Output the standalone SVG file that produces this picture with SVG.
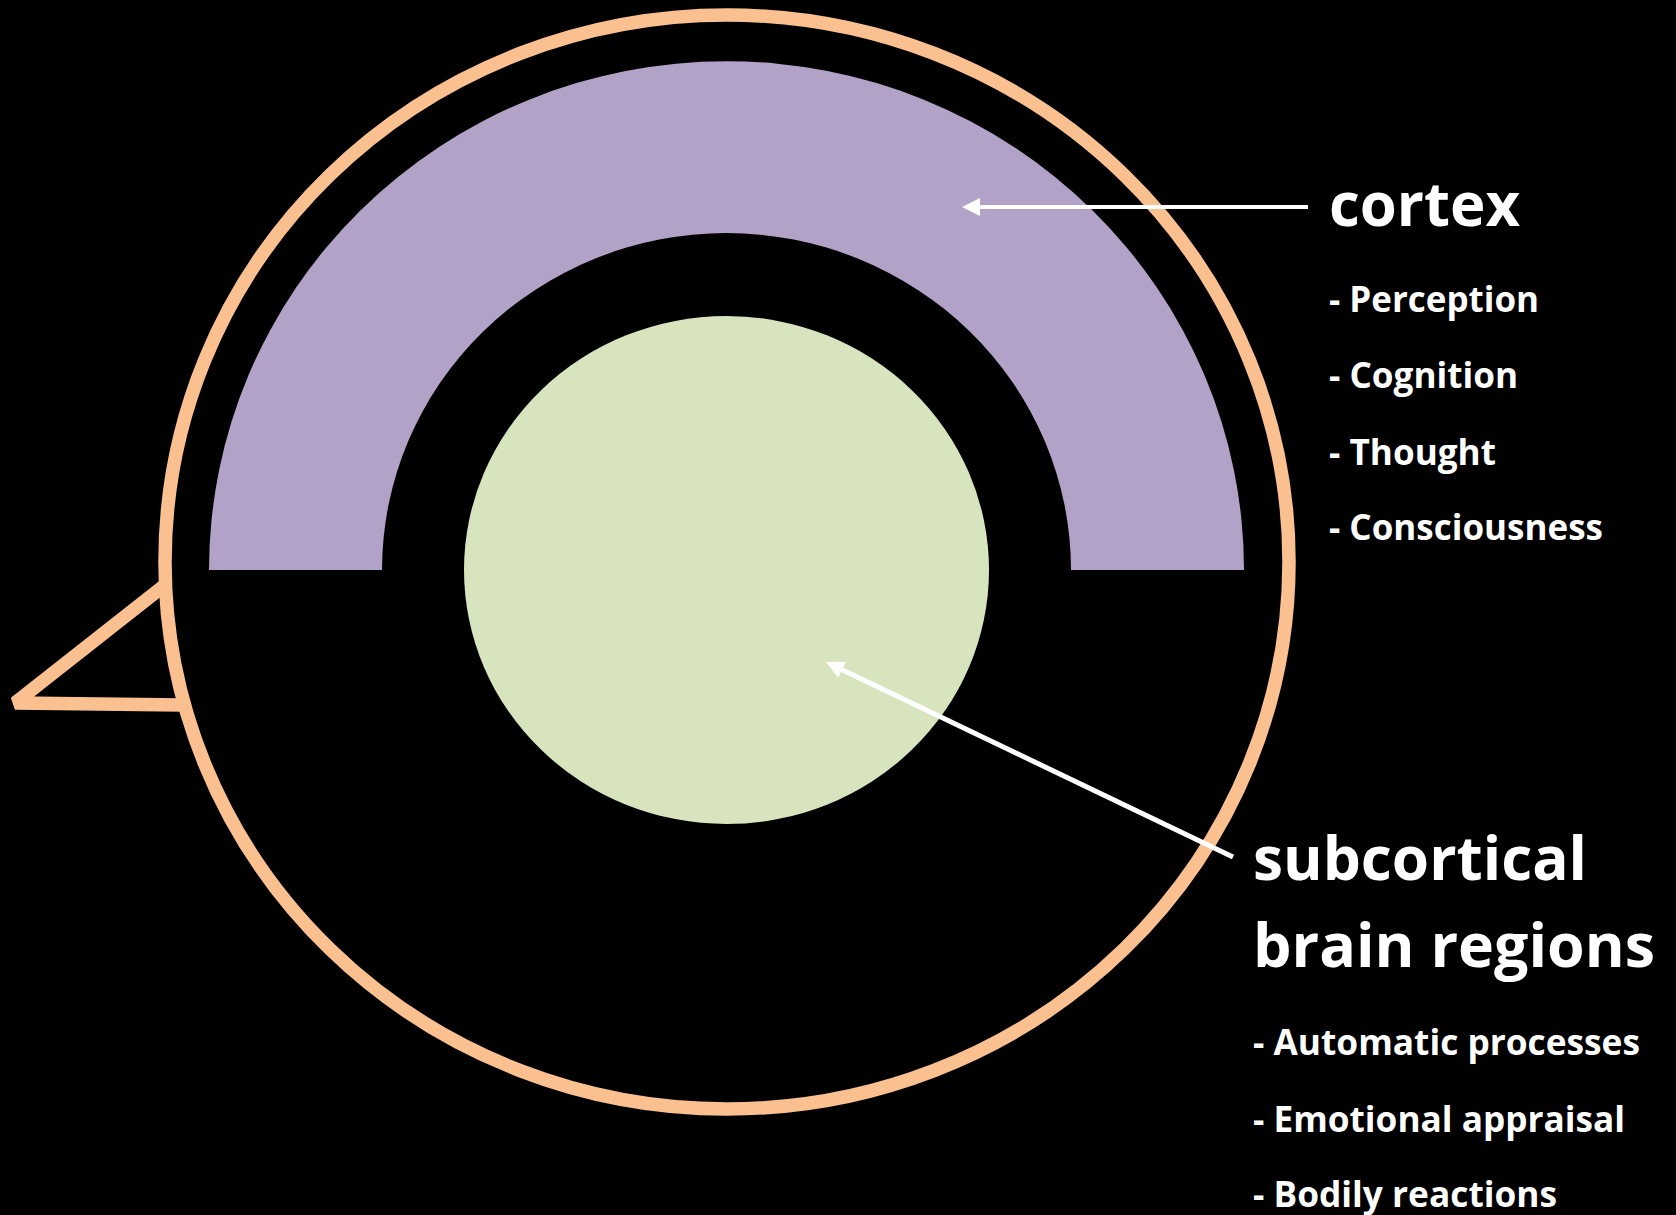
<svg xmlns="http://www.w3.org/2000/svg" width="1676" height="1215" viewBox="0 0 1676 1215">
  <style>
    .ring { fill: none; stroke: #FAC090; stroke-width: 13.5; }
    .head { font-family: "Open Sans", "Liberation Sans", sans-serif; font-weight: bold; font-size: 60px; fill: #FFFFFF; }
    .item { font-family: "Open Sans", "Liberation Sans", sans-serif; font-weight: bold; font-size: 35px; fill: #FFFFFF; }
    .conn { stroke: #FFFFFF; fill: none; }
  </style>
  <defs>
    <marker id="arrow" viewBox="0 0 18 18" refX="3" refY="9" markerWidth="18" markerHeight="18" markerUnits="userSpaceOnUse" orient="auto">
      <path d="M0,0 L18,9 L0,18 Z" fill="#FFFFFF"/>
    </marker>
  </defs>
  <rect x="0" y="0" width="1676" height="1215" fill="#000000"/>

  <g id="outer-ring">
    <ellipse class="ring" cx="727" cy="562" rx="562" ry="547"/>
    <path class="ring" d="M 165,585 L 15,703 L 182,705" stroke-linejoin="bevel"/>
  </g>

  <g id="cortex-shape">
    <path d="M 209,570 A 517.5,509 0 0 1 1244,570 L 1071,570 A 344.5,337 0 0 0 382,570 Z" fill="#B3A2C7"/>
  </g>

  <g id="subcortical-shape">
    <ellipse cx="726.5" cy="570" rx="262.5" ry="254" fill="#D7E4BD"/>
  </g>

  <g id="connectors">
    <line class="conn" x1="1308" y1="207" x2="977" y2="207" stroke-width="4" marker-end="url(#arrow)"/>
    <line class="conn" x1="1233" y1="857" x2="839.5" y2="668.5" stroke-width="5" marker-end="url(#arrow)"/>
  </g>

  <g id="cortex-label">
    <text class="head" x="1329" y="226" textLength="191" lengthAdjust="spacingAndGlyphs">cortex</text>
    <text class="item" x="1329" y="312" textLength="210" lengthAdjust="spacingAndGlyphs">- Perception</text>
    <text class="item" x="1329" y="388" textLength="189" lengthAdjust="spacingAndGlyphs">- Cognition</text>
    <text class="item" x="1329" y="465" textLength="167" lengthAdjust="spacingAndGlyphs">- Thought</text>
    <text class="item" x="1329" y="540" textLength="274" lengthAdjust="spacingAndGlyphs">- Consciousness</text>
  </g>

  <g id="subcortical-label">
    <text class="head" x="1253" y="880" textLength="334" lengthAdjust="spacingAndGlyphs">subcortical</text>
    <text class="head" x="1253" y="967" textLength="402" lengthAdjust="spacingAndGlyphs">brain regions</text>
    <text class="item" x="1253" y="1055" textLength="387" lengthAdjust="spacingAndGlyphs">- Automatic processes</text>
    <text class="item" x="1253" y="1132" textLength="372" lengthAdjust="spacingAndGlyphs">- Emotional appraisal</text>
    <text class="item" x="1253" y="1207" textLength="304" lengthAdjust="spacingAndGlyphs">- Bodily reactions</text>
  </g>
</svg>
